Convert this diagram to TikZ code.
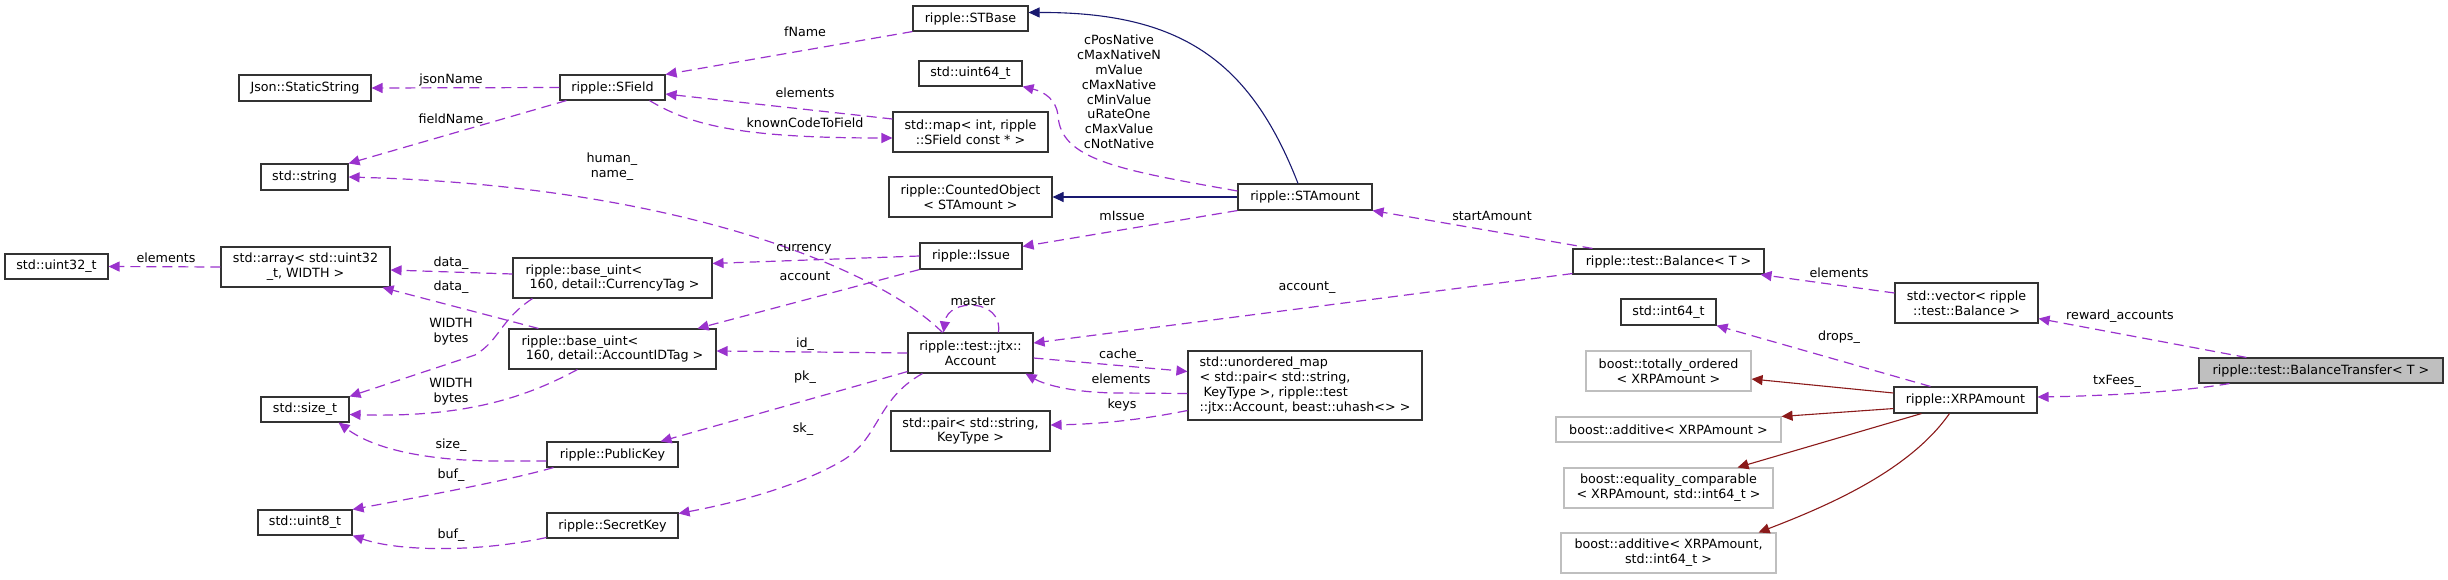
\documentclass[tikz,border=0pt]{standalone}
\usepackage{fontspec}
\setmainfont{DejaVu Sans}
\usetikzlibrary{arrows.meta,calc}
\definecolor{memcol}{HTML}{9A32CD}
\definecolor{inhcol}{HTML}{191970}
\definecolor{extcol}{HTML}{8B1A1A}
\definecolor{boxgray}{HTML}{BFBFBF}

\begin{document}
\begin{tikzpicture}[x=0.5pt, y=-0.5pt,
        every node/.style={font=\fontsize{6.35}{7.4}\selectfont, inner sep=0pt},
        cls/.style 2 args={draw=black!80, line width=0.55pt, minimum width=#1*0.5pt, minimum height=#2*0.5pt, align=center},
        extcls/.style 2 args={cls={#1}{#2}, draw=boxgray},
        lbl/.style={align=center},
        mem/.style={draw=memcol, line width=0.6pt, dash pattern=on 5pt off 3pt, -{Triangle[length=5.5pt,width=5pt]}},
        inh/.style={draw=inhcol, line width=0.55pt, -{Triangle[length=5.5pt,width=5pt]}},
        ext/.style={draw=extcol, line width=0.55pt, -{Triangle[length=5.5pt,width=5pt]}}]
        \useasboundingbox (0,0) rectangle (2448,579);

        % 左侧两列
        \node[cls={132}{26}] (json) at (305,88) {Json::StaticString};
        \node[cls={87}{26}] (stdstring) at (304.5,177) {std::string};
        \node[cls={103}{25}] (uint32) at (56.5,266.5) {std::uint32\_t};
        \node[cls={169}{40}] (stdarray) at (305.5,267) {std::array< std::uint32\\\_t, WIDTH >};
        \node[cls={88}{25}] (sizet) at (305,409.5) {std::size\_t};
        \node[cls={94}{25}] (uint8) at (305,522.5) {std::uint8\_t};
        \node[cls={105}{25}] (sfield) at (612.5,87.5) {ripple::SField};
        \node[cls={199}{40}, align=left] (curtag) at (612.5,278) {ripple::base\_uint<\\~160, detail::CurrencyTag >};
        \node[cls={207}{40}, align=left] (acctag) at (612.5,349) {ripple::base\_uint<\\~160, detail::AccountIDTag >};
        \node[cls={131}{25}] (pubkey) at (612.5,454.5) {ripple::PublicKey};
        \node[cls={131}{25}] (seckey) at (612.5,525.5) {ripple::SecretKey};

        % 中间列
        \node[cls={115}{25}] (stbase) at (970.5,18.5) {ripple::STBase};
        \node[cls={103}{25}] (uint64) at (970.5,73.5) {std::uint64\_t};
        \node[cls={155}{40}] (stdmap) at (970.5,132) {std::map< int, ripple\\::SField const * >};
        \node[cls={163}{40}] (counted) at (970.5,197) {ripple::CountedObject\\< STAmount >};
        \node[cls={102}{26}] (issue) at (971,256) {ripple::Issue};
        \node[cls={125}{40}] (account) at (970.5,353) {ripple::test::jtx::\\Account};
        \node[cls={159}{40}] (stdpair) at (970.5,431) {std::pair< std::string,\\KeyType >};
        \node[cls={134}{26}] (stamount) at (1305,197) {ripple::STAmount};
        \node[cls={234}{69}, align=left] (umap) at (1305,385.5) {std::unordered\_map\\< std::pair< std::string,\\~KeyType >, ripple::test\\::jtx::Account, beast::uhash<> >};

        % 右侧
        \node[cls={191}{25}] (balance) at (1668.5,261.5) {ripple::test::Balance< T >};
        \node[cls={95}{26}] (int64) at (1668.5,312) {std::int64\_t};
        \node[extcls={165}{40}] (totord) at (1668.5,371) {boost::totally\_ordered\\< XRPAmount >};
        \node[extcls={225}{25}] (additive) at (1668.5,429.5) {boost::additive< XRPAmount >};
        \node[extcls={209}{40}] (eqcomp) at (1668.5,488) {boost::equality\_comparable\\< XRPAmount, std::int64\_t >};
        \node[extcls={215}{40}] (additive2) at (1668.5,553) {boost::additive< XRPAmount,\\std::int64\_t >};
        \node[cls={143}{40}] (vector) at (1966.5,303) {std::vector< ripple\\::test::Balance >};
        \node[cls={143}{26}] (xrp) at (1965.5,400) {ripple::XRPAmount};
        \node[cls={244}{25}, fill=boxgray] (baltrans) at (2321,370.5) {ripple::test::BalanceTransfer< T >};

        % 成员关系 (虚线)
        \draw[mem] (sfield.west) -- (json.east);
        \node[lbl] (l-json) at (451,80) {jsonName};
        \draw[mem] ($(sfield.south west)+(7,0)$) -- (stdstring.north east);
        \node[lbl] (l-fieldname) at (451,119) {fieldName};
        \draw[mem] (stbase.south west) -- (sfield.north east);
        \node[lbl] (l-fname) at (805,32) {fName};
        \draw[mem] ($(stdmap.west)+(0,-13)$) -- ($(sfield.east)+(0,6.5)$);
        \node[lbl] (l-mapel) at (805,93) {elements};
        \draw[mem] ($(sfield.south east)+(-16,0)$) .. controls (690,125) and (740,138) .. ($(stdmap.west)+(0,6)$);
        \node[lbl] (l-known) at (805,123) {knownCodeToField};
        \draw[mem] ($(account.north west)+(35,0)$) .. controls (880,270) and (680,186) .. (stdstring.east);
        \node[lbl] (l-human) at (612,167) {human\_\\name\_};

        \draw[mem] (stdarray.west) -- (uint32.east);
        \node[lbl] (l-arrel) at (166,258) {elements};
        \draw[mem] ($(curtag.west)+(0,-4)$) -- ($(stdarray.east)+(0,3)$);
        \node[lbl] (l-data1) at (451,263) {data\_};
        \draw[mem] ($(acctag.north west)+(30,0)$) -- ($(stdarray.south east)+(-8,0)$);
        \node[lbl] (l-data2) at (451,287) {data\_};
        \draw[mem] ($(curtag.south west)+(20,0)$) .. controls (500,320) and (500,340) .. (475,355) -- (sizet.north east);
        \node[lbl] (l-width1) at (451,332) {WIDTH\\bytes};
        \draw[mem] ($(acctag.south west)+(69,0)$) .. controls (530,395) and (470,418) .. ($(sizet.east)+(0,5)$);
        \node[lbl] (l-width2) at (451,392) {WIDTH\\bytes};
        \draw[mem] ($(pubkey.west)+(0,6.5)$) -- (500,461) .. controls (430,461) and (375,450) .. ($(sizet.south east)+(-11,0)$);
        \node[lbl] (l-size) at (451,445) {size\_};
        \draw[mem] ($(pubkey.south west)+(7,0)$) .. controls (510,480) and (430,495) .. (uint8.north east);
        \node[lbl] (l-buf1) at (451,475) {buf\_};
        \draw[mem] ($(seckey.west)+(0,12)$) .. controls (480,552) and (400,552) .. (uint8.south east);
        \node[lbl] (l-buf2) at (451,535) {buf\_};

        \draw[mem] (issue.west) -- ($(curtag.north east)+(0,6)$);
        \node[lbl] (l-currency) at (804,249) {currency};
        \draw[mem] (issue.south west) -- ($(acctag.north east)+(-19,0)$);
        \node[lbl] (l-account) at (805,276) {account};
        \draw[mem] (account.west) -- ($(acctag.east)+(0,2)$);
        \node[lbl] (l-id) at (805,344) {id\_};
        \draw[mem] ($(account.south west)+(0,-2)$) -- ($(pubkey.north east)+(-18,0)$);
        \node[lbl] (l-pk) at (805,377) {pk\_};
        \draw[mem] ($(account.south west)+(15,0)$) .. controls (875,400) and (880,440) .. (840,462) .. controls (800,485) and (740,502) .. ($(seckey.east)+(0,-12)$);
        \node[lbl] (l-sk) at (803,429) {sk\_};
        \draw[mem] ($(account.north west)+(91,0)$) .. controls (1003,298) and (948,298) .. ($(account.north west)+(36,0)$);
        \node[lbl] (l-master) at (973,301) {master};

        \draw[mem] ($(account.east)+(0,5)$) -- ($(umap.west)+(0,-14)$);
        \node[lbl] (l-cache) at (1121,355) {cache\_};
        \draw[mem] ($(umap.west)+(0,8)$) -- (1120,393) .. controls (1075,393) and (1045,385) .. ($(account.south east)+(-8,0)$);
        \node[lbl] (l-umapel) at (1121,379) {elements};
        \draw[mem] ($(umap.west)+(0,25)$) .. controls (1140,420) and (1100,424) .. ($(stdpair.east)+(0,-6)$);
        \node[lbl] (l-keys) at (1122,405) {keys};

        \draw[mem] ($(stamount.west)+(0,-6)$) .. controls (1120,170) and (1060,160) .. (1058,115) .. controls (1056,100) and (1045,92) .. (uint64.south east);
        \node[lbl] (l-consts) at (1119,92) {cPosNative\\cMaxNativeN\\mValue\\cMaxNative\\cMinValue\\uRateOne\\cMaxValue\\cNotNative};
        \draw[mem] (stamount.south west) -- ($(issue.north east)+(0,4)$);
        \node[lbl] (l-missue) at (1122,216) {mIssue};

        \draw[mem] ($(balance.north west)+(20,0)$) -- (stamount.south east);
        \node[lbl] (l-start) at (1492,216) {startAmount};
        \draw[mem] ($(balance.south west)+(0,-1)$) -- ($(account.east)+(0,-10)$);
        \node[lbl] (l-accountb) at (1307,288) {account\_};
        \draw[mem] ($(vector.west)+(0,-10)$) -- ($(balance.south east)+(-4,0)$);
        \node[lbl] (l-vecel) at (1839,273) {elements};
        \draw[mem] ($(baltrans.north west)+(48,0)$) -- ($(vector.south east)+(0,-5)$);
        \node[lbl] (l-reward) at (2120,316) {reward\_accounts};
        \draw[mem] ($(baltrans.south west)+(31,0)$) .. controls (2180,392) and (2100,396) .. ($(xrp.east)+(0,-3)$);
        \node[lbl] (l-txfees) at (2117,381) {txFees\_};
        \draw[mem] ($(xrp.north west)+(37,0)$) -- (int64.south east);
        \node[lbl] (l-drops) at (1839,337) {drops\_};

        % 继承关系 (实线)
        \draw[inh] ($(stamount.north)+(-7,0)$) .. controls (1250,60) and (1180,12) .. ($(stbase.east)+(0,-6)$);
        \draw[inh] (stamount.west) -- (counted.east);
        \draw[ext] ($(xrp.west)+(0,-7)$) -- ($(totord.east)+(0,8)$);
        \draw[ext] ($(xrp.south west)+(0,-5)$) -- (additive.north east);
        \draw[ext] ($(xrp.south west)+(28,0)$) -- ($(eqcomp.north east)+(-36,0)$);
        \draw[ext] ($(xrp.south west)+(56,0)$) .. controls (1910,470) and (1830,505) .. ($(additive2.north east)+(-18,0)$);
    \end{tikzpicture}
\end{document}
